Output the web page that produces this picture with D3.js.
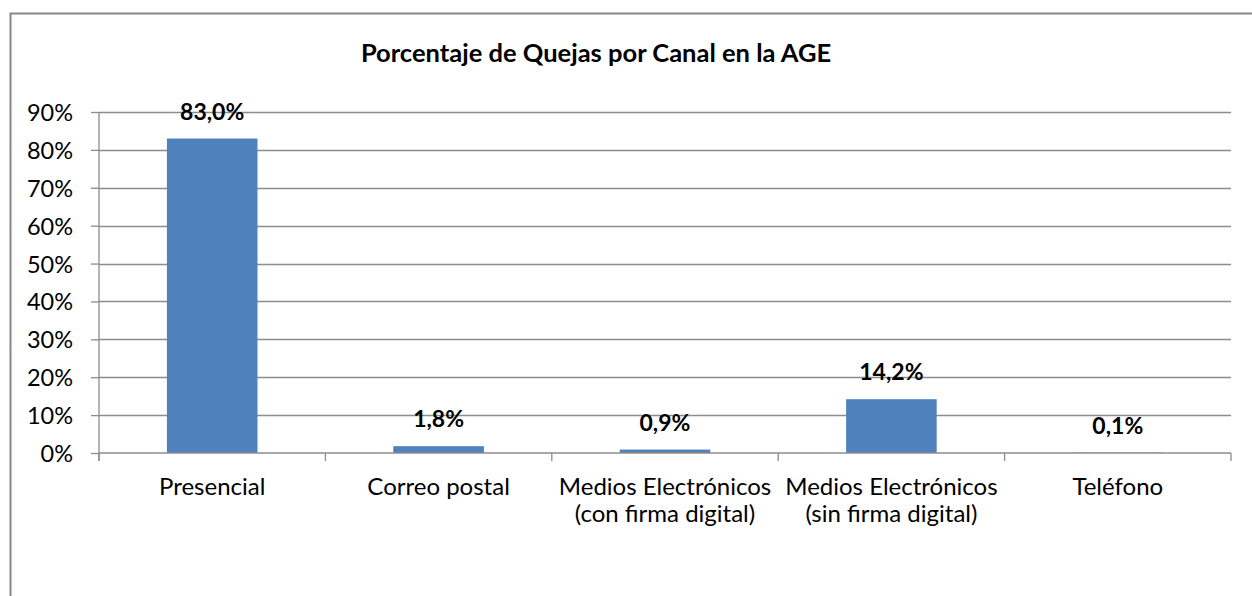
<!DOCTYPE html>
<html>
<head>
<meta charset="utf-8">
<script src="https://cdn.jsdelivr.net/npm/d3@7"></script>
<style>
  body { margin: 0; background: #fff; }
  svg { display: block; }
  svg text { font-family: Lato, "Open Sans", sans-serif; }
</style>
</head>
<body>
<div id="chart"></div>
<script>
// data
var categories = ["Presencial", "Correo postal", "Medios Electrónicos\n(con firma digital)", "Medios Electrónicos\n(sin firma digital)", "Teléfono"];
var values = [83.0, 1.8, 0.9, 14.2, 0.1];
var yTicks = [0, 10, 20, 30, 40, 50, 60, 70, 80, 90];
var title = "Porcentaje de Quejas por Canal en la AGE";

var width = 1252, height = 596;
var margin = {top: 112, right: 21, bottom: 143, left: 99};
var gridColor = "#8c8c8c";

var svg = d3.select("#chart").append("svg")
    .attr("width", width)
    .attr("height", height);

// outer chart frame (runs off the right and bottom edges)
svg.append("rect")
    .attr("x", 10.5).attr("y", 13.5)
    .attr("width", width + 20).attr("height", height + 20)
    .attr("fill", "none")
    .attr("stroke", "#878787")
    .attr("stroke-width", 2);

svg.append("text")
    .attr("x", 596).attr("y", 62)
    .attr("text-anchor", "middle")
    .style("font-weight", "bold")
    .style("font-size", "25.5px")
    .text(title);

var x = d3.scaleBand()
    .domain(categories)
    .range([margin.left, width - margin.right]);

var y = d3.scaleLinear()
    .domain([0, 90])
    .range([height - margin.bottom, margin.top]);

// gridlines
svg.append("g")
  .selectAll("line")
  .data(yTicks.slice(1))
  .enter().append("line")
    .attr("x1", margin.left).attr("x2", width - margin.right)
    .attr("y1", d => Math.round(y(d)) + 0.5).attr("y2", d => Math.round(y(d)) + 0.5)
    .attr("stroke", gridColor)
    .attr("stroke-width", 1.3);

// y axis
var yAxis = svg.append("g")
    .attr("transform", `translate(${margin.left},0)`)
    .call(d3.axisLeft(y).tickValues(yTicks).tickSize(8).tickPadding(18).tickFormat(d => d + "%"));
yAxis.attr("font-family", null);
yAxis.select(".domain").attr("stroke", gridColor).attr("stroke-width", 1.3)
    .attr("d", `M0,${y(90)}V${y(0) + 8}`);
yAxis.selectAll(".tick line").attr("stroke", gridColor).attr("stroke-width", 1.3);
yAxis.selectAll(".tick text").style("font-size", "23.5px").attr("fill", "#000").attr("dy", "0.36em");

// bars
var barW = x.bandwidth() * 0.4;
svg.append("g")
  .selectAll("rect")
  .data(values)
  .enter().append("rect")
    .attr("x", (d, i) => x(categories[i]) + (x.bandwidth() - barW) / 2)
    .attr("y", d => y(d))
    .attr("width", barW)
    .attr("height", d => y(0) - y(d))
    .attr("fill", "#4f81bd");

// x axis
var xAxis = svg.append("g")
    .attr("transform", `translate(0,${y(0)})`)
    .call(d3.axisBottom(x).tickSize(0).tickFormat(""));
xAxis.select(".domain").attr("stroke", gridColor).attr("stroke-width", 1.3)
    .attr("d", `M${margin.left},0H${width - margin.right}`);
xAxis.selectAll(".tick").remove();

// category separators
svg.append("g")
  .selectAll("line")
  .data(categories.concat([null]))
  .enter().append("line")
    .attr("x1", (d, i) => margin.left + i * x.step()).attr("x2", (d, i) => margin.left + i * x.step())
    .attr("y1", y(0)).attr("y2", y(0) + 8)
    .attr("stroke", gridColor)
    .attr("stroke-width", 1.3);

// category labels, one text per line
var lines = [];
categories.forEach(c => c.split("\n").forEach((t, i) => lines.push({cat: c, text: t, row: i})));
svg.append("g")
  .selectAll("text")
  .data(lines)
  .enter().append("text")
    .attr("x", d => x(d.cat) + x.bandwidth() / 2)
    .attr("y", d => 495 + d.row * 27)
    .attr("text-anchor", "middle")
    .style("font-size", "24px")
    .text(d => d.text);

// value labels
svg.append("g")
  .selectAll("text")
  .data(values)
  .enter().append("text")
    .attr("x", (d, i) => x(categories[i]) + x.bandwidth() / 2)
    .attr("y", d => y(d) - 19)
    .attr("text-anchor", "middle")
    .style("font-weight", "bold")
    .style("font-size", "23px")
    .text(d => d.toFixed(1).replace(".", ",") + "%");
</script>
</body>
</html>
